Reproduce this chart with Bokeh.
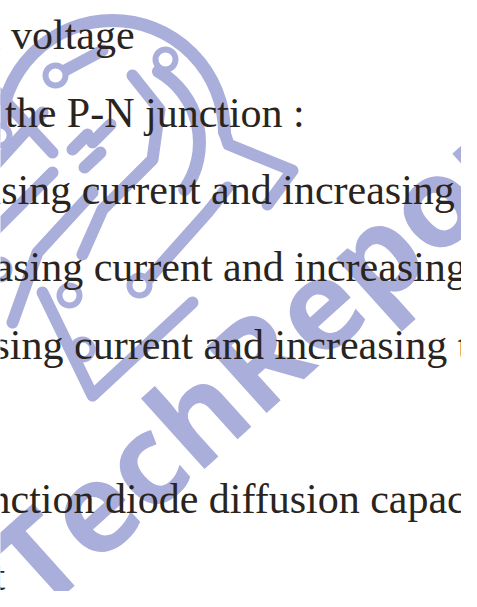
from bokeh.plotting import figure
from bokeh.models import Range1d, ColumnDataSource
from bokeh.core.properties import value
from bokeh.embed import file_html
from bokeh.resources import INLINE

# ---- page text (visible, cropped lines of a scanned page) ----
line_text = [
    "n voltage",
    "f the P-N junction :",
    "asing current and increasing t",
    "asing current and increasing",
    "sing current and increasing te",
    "nction diode diffusion capaci",
    "t",
]
line_x = [-13, -12, -10, 2, 1, -3, 1]
line_y = [42, 120, 197, 274, 352, 506, 583]

# ---- watermark word ----
wm_text = ["TechReport"]
wm_x = [282]
wm_y = [348]
wm_angle = [42]

# ---- watermark logo: arcs (centre, radius, start/end angle in degrees) ----
arc_x = [120, 125]
arc_y = [140, 150]
arc_r = [112, 82]
arc_a0 = [0, -35]
arc_a1 = [180, 60]

# ---- watermark logo: circuit traces ----
trace_xs = [
    [232, 236, 300, 275],
    [8, 0],
    [140, 167, 160, 110, 90],
    [0, 60],
    [0, 50],
    [80, 95],
    [100, 118],
    [92, 108],
    [100, 45, 20],
    [60, 0],
    [50, 100, 200],
    [150, 215, 235],
    [63, 110],
]
trace_ys = [
    [140, 152, 178, 212],
    [140, 160],
    [83, 117, 167, 217, 262],
    [95, 160],
    [175, 120],
    [157, 142],
    [150, 132],
    [175, 160],
    [200, 260, 330],
    [180, 240],
    [300, 403, 310],
    [293, 220, 195],
    [83, 58],
]
ring_x = [63, 173, 7, 7, 77, 147, 90]
ring_y = [83, 67, 143, 277, 303, 293, 357]

WM = "#aaaedb"
INK = "#2a2420"

p = figure(width=461, height=591, output_backend="svg", toolbar_location=None,
           x_range=Range1d(8, 469), y_range=Range1d(599, 8),
           min_border=0, x_axis_location=None, y_axis_location=None)
p.grid.visible = False
p.outline_line_color = None
p.background_fill_color = "white"
p.border_fill_color = "white"

# logo
p.arc(x=arc_x, y=arc_y, radius=arc_r, start_angle=arc_a0, end_angle=arc_a1,
      start_angle_units="deg", end_angle_units="deg",
      line_color=WM, line_width=13, line_cap="round")
p.multi_line(xs=trace_xs, ys=trace_ys, line_color=WM, line_width=12,
             line_cap="round", line_join="round")
p.scatter(x=ring_x, y=ring_y, size=20, fill_color="white",
          line_color=WM, line_width=6)

# watermark word
wm = ColumnDataSource(dict(x=wm_x, y=wm_y, t=wm_text, a=wm_angle))
p.text(x="x", y="y", text="t", angle="a", angle_units="deg", source=wm,
       text_font=value("Open Sans"), text_font_style="bold",
       text_font_size="125px", text_color=WM,
       text_align="center", text_baseline="middle")

# page text
src = ColumnDataSource(dict(x=line_x, y=line_y, t=line_text))
p.text(x="x", y="y", text="t", source=src,
       text_font=value("Liberation Serif"), text_font_size="42px",
       text_color=INK, text_align="left", text_baseline="alphabetic")

open("out.html", "w").write(file_html(p, INLINE))
